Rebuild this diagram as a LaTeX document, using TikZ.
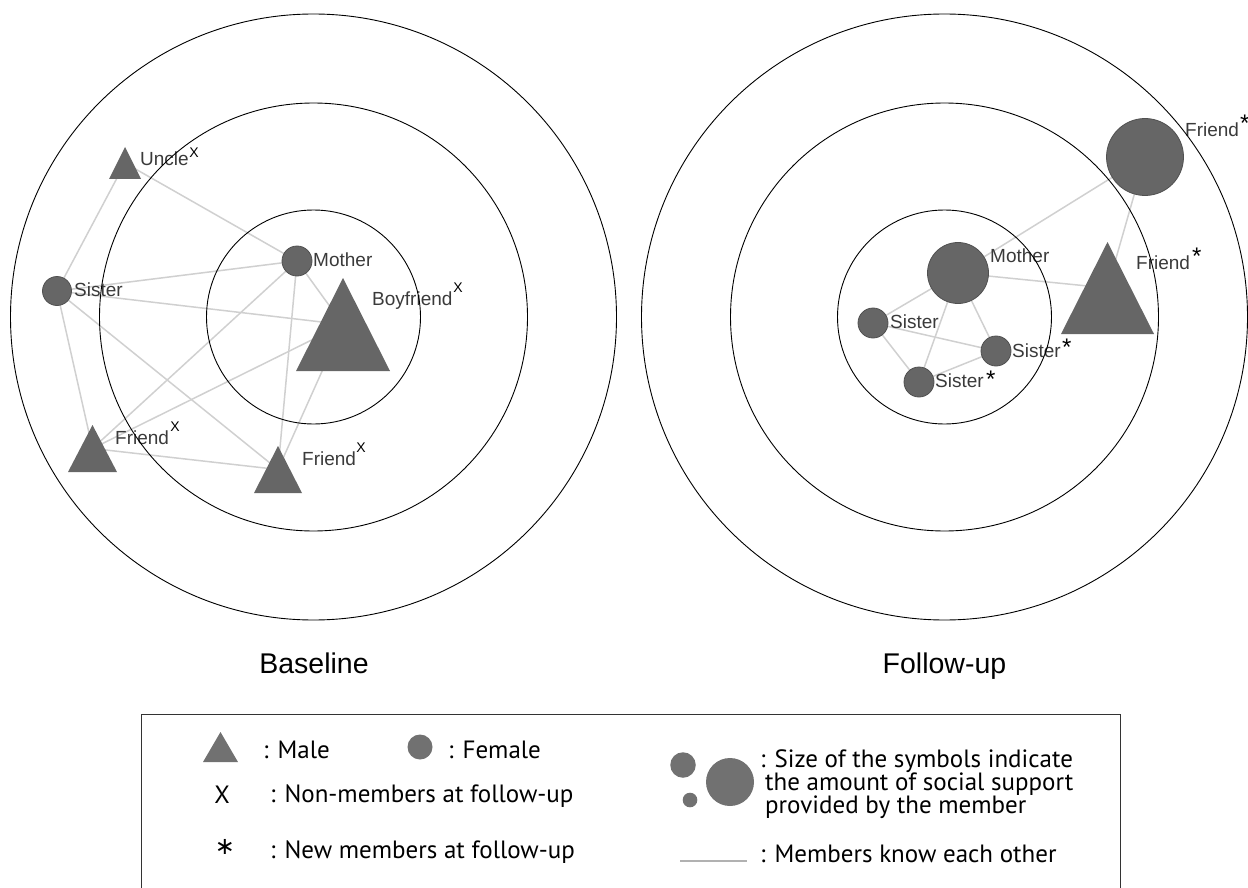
\documentclass[tikz,border=0pt]{standalone}
\usepackage{fontspec}
\setmainfont{Liberation Sans}
\newfontfamily\legfont{PT Sans}
\newfontfamily\netfont{Liberation Sans}
\newfontfamily\symfont{DejaVu Sans}
\usetikzlibrary{backgrounds}
\definecolor{nodegray}{HTML}{666666}
\definecolor{nodeedge}{HTML}{505050}
\definecolor{tiegray}{HTML}{D0D0D0}
\definecolor{labelgray}{HTML}{3A3A3A}
\definecolor{leggray}{HTML}{717171}
\tikzset{
  fem/.style={circle, fill=nodegray, draw=nodeedge, line width=0.8pt, inner sep=0pt, minimum size=#1},
  male/.style n args={3}{rectangle, inner sep=0pt, minimum width=#1, minimum height=#2,
    path picture={\fill[#3] (path picture bounding box.south west) -- (path picture bounding box.south east) -- (path picture bounding box.north) -- cycle;}},
  ring/.style={circle, draw=black, line width=0.9pt, inner sep=0pt, minimum size=#1},
  tie/.style={draw=tiegray, line width=1.5pt},
  lab/.style={anchor=base west, inner sep=0pt, text=labelgray, font=\netfont\fontsize{19}{22}\selectfont},
  xmark/.style={anchor=center, inner sep=0pt, text=black, font=\netfont\fontsize{14}{15}\selectfont},
  smark/.style={anchor=base west, inner sep=0pt, text=black, font=\netfont\fontsize{24}{26}\selectfont},
  ttl/.style={anchor=base, inner sep=0pt, font=\fontsize{28.5}{32}\selectfont},
  leg/.style={anchor=base west, inner sep=0pt, text=black, font=\legfont\fontsize{25}{28}\selectfont},
}
\begin{document}
\begin{tikzpicture}[x=1pt,y=-1pt]
\useasboundingbox (0,0) rectangle (1248,888);
% ---------- Baseline network ----------
\node[male={32}{32}{nodegray}] (bU) at (125,163) {};
\node[fem=29pt] (bS) at (57,291) {};
\node[fem=30pt] (bMo) at (297,261) {};
\node[male={94}{93}{nodegray}] (bB) at (343,324.5) {};
\node[male={49}{47}{nodegray}] (bF1) at (92.5,448.5) {};
\node[male={48}{47}{nodegray}] (bF2) at (278,469.5) {};
\node[lab] (bUl) at (140,166) {Uncle};
\node[lab] (bSl) at (74,296) {Sister};
\node[lab] (bMol) at (313,266) {Mother};
\node[lab] (bBl) at (372,305) {Boyfriend};
\node[lab] (bF1l) at (115,444) {Friend};
\node[lab] (bF2l) at (302,465) {Friend};
\node[xmark] (bUx) at (194,153) {X};
\node[xmark] (bBx) at (458,288) {X};
\node[xmark] (bF1x) at (175,427) {X};
\node[xmark] (bF2x) at (361,448) {X};
% ---------- Follow-up network ----------
\node[fem=77pt] (fC) at (1145,157) {};
\node[fem=61pt] (fMo) at (958,273) {};
\node[male={93}{92}{nodegray}] (fT) at (1107.5,288) {};
\node[fem=30pt] (fSL) at (873,323) {};
\node[fem=30pt] (fSR) at (996,351) {};
\node[fem=30pt] (fSB) at (919,382) {};
\node[lab] (fCl) at (1185,137) {Friend};
\node[lab] (fMol) at (990,262) {Mother};
\node[lab] (fTl) at (1136,269) {Friend};
\node[lab] (fSLl) at (890,328) {Sister};
\node[lab] (fSRl) at (1012,357) {Sister};
\node[lab] (fSBl) at (935,387) {Sister};
\node[smark] (fCs) at (1240,131.7) {*};
\node[smark] (fTs) at (1192,264.7) {*};
\node[smark] (fSRs) at (1062,355.7) {*};
\node[smark] (fSBs) at (986,387.7) {*};
% ---------- ties ----------
\begin{scope}[on background layer]
\draw[tie] (bU.center) -- (bS.center);
\draw[tie] (bU.center) -- (bMo.center);
\draw[tie] (bS.center) -- (bMo.center);
\draw[tie] (bS.center) -- (bB.center);
\draw[tie] (bS.center) -- (bF1.center);
\draw[tie] (bS.center) -- (bF2.center);
\draw[tie] (bMo.center) -- (bF1.center);
\draw[tie] (bB.center) -- (bF1.center);
\draw[tie] (bMo.center) -- (bF2.center);
\draw[tie] (bB.center) -- (bF2.center);
\draw[tie] (bF1.center) -- (bF2.center);
\draw[tie] (bMo.center) -- (bB.center);
\draw[tie] (fC.center) -- (fMo.center);
\draw[tie] (fC.center) -- (fT.center);
\draw[tie] (fMo.center) -- (fT.center);
\draw[tie] (fMo.center) -- (fSL.center);
\draw[tie] (fMo.center) -- (fSB.center);
\draw[tie] (fMo.center) -- (fSR.center);
\draw[tie] (fSL.center) -- (fSR.center);
\draw[tie] (fSL.center) -- (fSB.center);
\draw[tie] (fSB.center) -- (fSR.center);
\end{scope}
% ---------- rings ----------
\node[ring=606pt] (bR3) at (313.5,317) {};
\node[ring=428pt] (bR2) at (313.5,317) {};
\node[ring=214pt] (bR1) at (313.5,317) {};
\node[ring=606pt] (fR3) at (944.5,317) {};
\node[ring=428pt] (fR2) at (944.5,317) {};
\node[ring=214pt] (fR1) at (944.5,317) {};
% ---------- titles ----------
\node[ttl] (tB) at (314,673) {Baseline};
\node[ttl] (tF) at (944.5,673) {Follow-up};
% ---------- legend ----------
\draw[line width=1pt, draw=black!80] (141,889) -- (141,714) -- (1120,714) -- (1120,889);
\node[male={35}{30}{leggray}] (lgM) at (220.5,747) {};
\node[leg] (lgMt) at (263,758) {: Male};
\node[fem=25pt, fill=leggray, draw=none] (lgF) at (420,747) {};
\node[leg] (lgFt) at (448,758) {: Female};
\node[anchor=center, inner sep=0pt, font=\legfont\fontsize{25}{26}\selectfont] (lgX) at (222,795) {X};
\node[leg] (lgXt) at (270,802) {: Non-members at follow-up};
\node[anchor=center, inner sep=0pt, font=\symfont\fontsize{24}{26}\selectfont] (lgA) at (225,847) {∗};
\node[leg] (lgAt) at (270,858) {: New members at follow-up};
\node[fem=25.5pt, fill=leggray, draw=none] (lgC1) at (683,765) {};
\node[fem=48pt, fill=leggray, draw=none] (lgC2) at (730,782) {};
\node[fem=14.6pt, fill=leggray, draw=none] (lgC3) at (690,800) {};
\node[leg] (lgS1) at (760,767) {: Size of the symbols indicate};
\node[leg] (lgS2) at (765,790) {the amount of social support};
\node[leg] (lgS3) at (765,813) {provided by the member};
\coordinate (lgL1) at (680,861);
\coordinate (lgL2) at (747,861);
\draw[draw=tiegray!85!black, line width=2pt] (lgL1) -- (lgL2);
\node[leg] (lgLt) at (760,862) {: Members know each other};
\end{tikzpicture}
\end{document}
